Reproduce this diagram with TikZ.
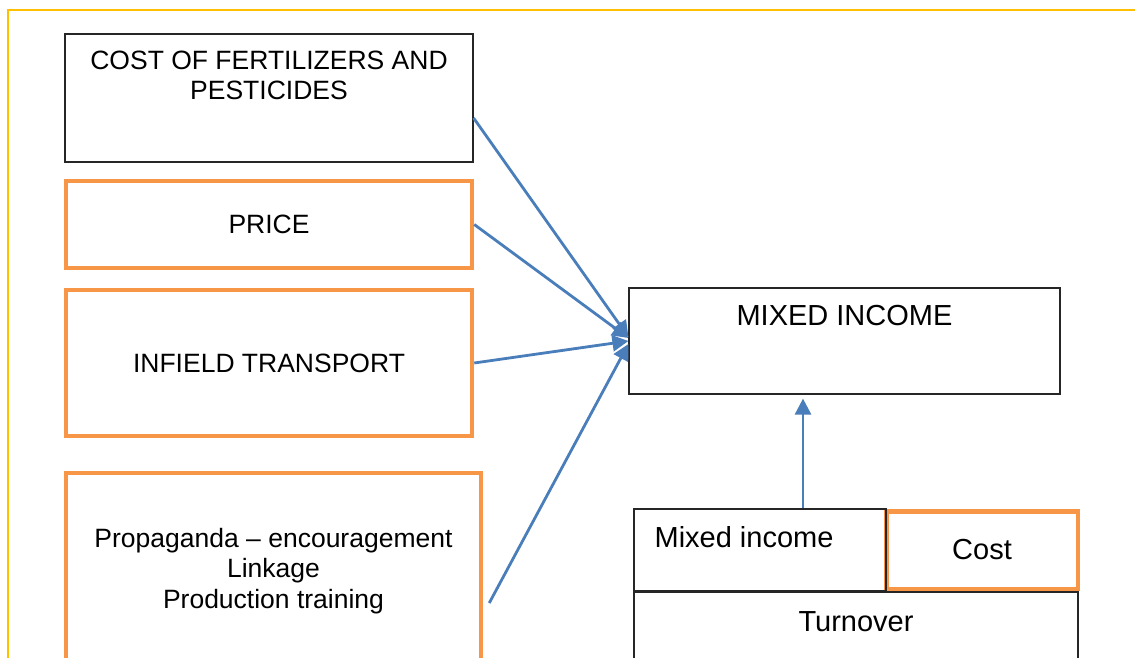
\documentclass[tikz,border=0pt]{standalone}
\usepackage{fontspec}
\setmainfont{Liberation Sans}
\usetikzlibrary{arrows.meta,positioning}
\definecolor{frameGold}{RGB}{255,192,0}
\definecolor{boxOrange}{RGB}{247,150,70}
\definecolor{linkBlue}{RGB}{74,126,187}
\tikzset{
    box/.style ={rectangle, draw=black!85, line width=1.2pt, inner sep=0pt, align=center, font=\fontsize{26.5}{30.5}\selectfont},
    obox/.style ={box, draw=boxOrange, line width=4.5pt},
    big/.style = {font=\fontsize{29}{33}\selectfont},
    lbl/.style = {inner sep=0pt, align=center},
    link/.style={-{Triangle[length=16pt,width=16pt]}, linkBlue, line width=2.8pt}
}
\begin{document}
\begin{tikzpicture}[x=1pt,y=-1pt]
    \clip (0,0) rectangle (1135,658);
    \draw[frameGold, line width=2pt] (8,10) rectangle (1200,700);

    % Left column
    \node[box, minimum width=408pt, minimum height=128pt] (fert) at (269,98)
        [label={[lbl, font=\fontsize{26.5}{30.5}\selectfont, anchor=north, yshift=-17pt]north:{COST OF FERTILIZERS AND\\PESTICIDES}}] {};
    \node[obox, minimum width=406pt, minimum height=87pt] (price) at (269,224.5) {PRICE};
    \node[obox, minimum width=406pt, minimum height=146pt] (infield) at (269,363) {INFIELD TRANSPORT};
    \node[obox, minimum width=415pt, minimum height=196pt] (prop) at (273.5,571) {Propaganda -- encouragement\\Linkage\\Production training};

    % Right column
    \node[box, big, minimum width=431pt, minimum height=106pt] (mixed) at (844.5,341)
        [label={[lbl, font=\fontsize{29}{33}\selectfont, anchor=north, yshift=-18pt]north:{MIXED INCOME}}] {};
    \node[obox, big, minimum width=191.5pt, minimum height=77.5pt] (cost) at (982,550) {Cost};
    \node[box, big, minimum width=252pt, minimum height=82pt] (mixedinc) at (760,550)
        [label={[lbl, font=\fontsize{29}{33}\selectfont, anchor=north west, xshift=21pt, yshift=-18pt]north west:{Mixed income}}] {};
    \node[box, big, minimum width=444pt, minimum height=100pt] (turnover) at (856,642)
        [label={[lbl, font=\fontsize{29}{33}\selectfont, anchor=north, yshift=-20pt]north:{Turnover}}] {};

    % Directed edges
    \draw[link] ([yshift=-20pt]fert.east) -- ([yshift=4pt]mixed.west);
    \draw[link] (price.east) -- ([yshift=3pt]mixed.west);
    \draw[link] (infield.east) -- (mixed.west);
    \draw[link] ([xshift=6pt,yshift=-32pt]prop.east) -- ([yshift=-3pt]mixed.west);
    \draw[link] ([xshift=43pt]mixedinc.north) -- ([xshift=-41.5pt,yshift=-4pt]mixed.south);
\end{tikzpicture}
\end{document}
